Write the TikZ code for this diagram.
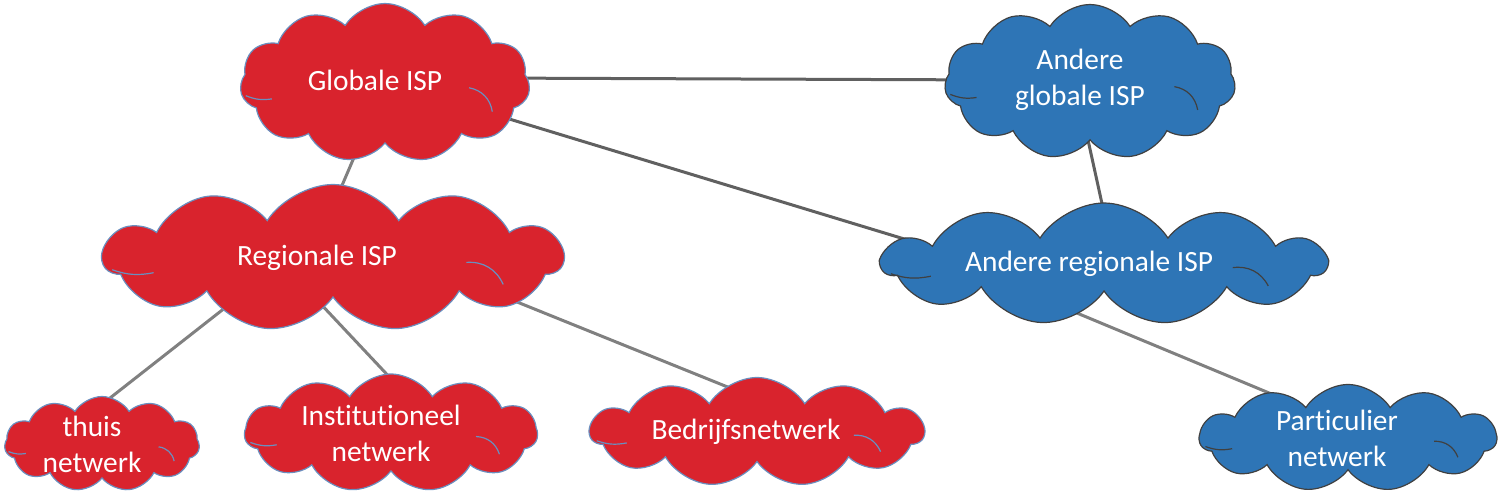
\documentclass[tikz,border=0pt]{standalone}
\usepackage{fontspec}
\setmainfont{Carlito}[Ligatures={NoCommon}]
\usetikzlibrary{shapes.symbols,backgrounds}
\definecolor{ispred}{HTML}{D9232D}
\definecolor{redline}{HTML}{6A8FBF}
\definecolor{ispblue}{HTML}{2E75B6}
\definecolor{blueline}{HTML}{404040}
\definecolor{conn}{HTML}{808080}
\definecolor{conndark}{HTML}{606060}
% inner arcs of the cloud: #1 node, #2 width (px), #3 height (px), #4 colour
\newcommand\cloudarcs[4]{%
  \draw[draw=#4, line width=0.6pt]
    ([shift={({-0.48*#2},{0.08*#3})}]#1.center) to[bend right=15] ([shift={({-0.39*#2},{0.10*#3})}]#1.center);
  \draw[draw=#4, line width=0.6pt]
    ([shift={({0.29*#2},{0.03*#3})}]#1.center) to[bend left=35] ([shift={({0.37*#2},{0.18*#3})}]#1.center);
}
\begin{document}
\begin{tikzpicture}[x=0.5pt,y=-0.5pt,
  cloudbase/.style={cloud, cloud puffs=11, cloud puff arc=115, inner sep=0pt, line width=0.6pt},
  redcloud/.style={cloudbase, fill=ispred, draw=redline},
  bluecloud/.style={cloudbase, fill=ispblue, draw=blueline},
  cloudtext/.style={text=white, font=\fontsize{14.7}{18}\selectfont, align=center, inner sep=0pt},
  link/.style={draw=conn, line width=1.5pt},
  linkdark/.style={draw=conndark, line width=1.5pt}]
\useasboundingbox (0,0) rectangle (1501,497);
% clouds
\node[redcloud, minimum width=145pt, minimum height=79.5pt] (glob) at (385,83) {};
\node[bluecloud, minimum width=145.5pt, minimum height=77.5pt] (aglob) at (1090,82) {};
\node[redcloud, minimum width=230pt, minimum height=73.5pt] (reg) at (333,258) {};
\node[bluecloud, minimum width=222pt, minimum height=61pt] (areg) at (1104,264) {};
\node[redcloud, minimum width=97.5pt, minimum height=47.5pt] (thuis) at (102,444) {};
\node[redcloud, minimum width=146.5pt, minimum height=59pt] (inst) at (391,433) {};
\node[redcloud, minimum width=167pt, minimum height=54.5pt] (bedr) at (757,432) {};
\node[bluecloud, minimum width=148.5pt, minimum height=53.5pt] (part) at (1348,438) {};
% inner arcs
\cloudarcs{glob}{290}{159}{redline}
\cloudarcs{aglob}{291}{155}{blueline}
\cloudarcs{reg}{460}{147}{redline}
\cloudarcs{areg}{444}{122}{blueline}
\cloudarcs{thuis}{195}{95}{redline}
\cloudarcs{inst}{293}{118}{redline}
\cloudarcs{bedr}{334}{109}{redline}
\cloudarcs{part}{297}{107}{blueline}
% texts
\node[cloudtext] (globt) at ([shift={(-10,-3)}]glob.center) {Globale ISP};
\node[cloudtext] (aglobt) at ([shift={(-10,-2)}]aglob.center) {Andere\\globale ISP};
\node[cloudtext] (regt) at ([shift={(-16,0)}]reg.center) {Regionale ISP};
\node[cloudtext] (aregt) at ([shift={(-15,0)}]areg.center) {Andere regionale ISP};
\node[cloudtext] (thuist) at ([shift={(-10,0)}]thuis.center) {thuis\\netwerk};
\node[cloudtext] (instt) at ([shift={(-10,0)}]inst.center) {Institutioneel\\netwerk};
\node[cloudtext] (bedrt) at ([shift={(-11,0)}]bedr.center) {Bedrijfsnetwerk};
\node[cloudtext] (partt) at ([shift={(-11,0)}]part.center) {Particulier\\netwerk};
% connectors
\begin{scope}[on background layer]
\draw[link] ([shift={(-15,37)}]glob.center) -- ([shift={(-10,-28)}]reg.center);
\draw[linkdark] ([shift={(95,-5)}]glob.center) -- ([shift={(-90,-2)}]aglob.center);
\draw[linkdark] ([shift={(65,18)}]glob.center) -- ([shift={(-124,-2)}]areg.center);
\draw[linkdark] ([shift={(-2,58)}]aglob.center) -- ([shift={(6,-24)}]areg.center);
\draw[link] ([shift={(-98,42)}]reg.center) -- ([shift={(-20,-24)}]thuis.center);
\draw[link] ([shift={(-16,42)}]reg.center) -- ([shift={(20,-33)}]inst.center);
\draw[link] ([shift={(137,25)}]reg.center) -- ([shift={(-17,-40)}]bedr.center);
\draw[link] ([shift={(-44,42)}]areg.center) -- ([shift={(-38,-28)}]part.center);
\end{scope}
\end{tikzpicture}
\end{document}
